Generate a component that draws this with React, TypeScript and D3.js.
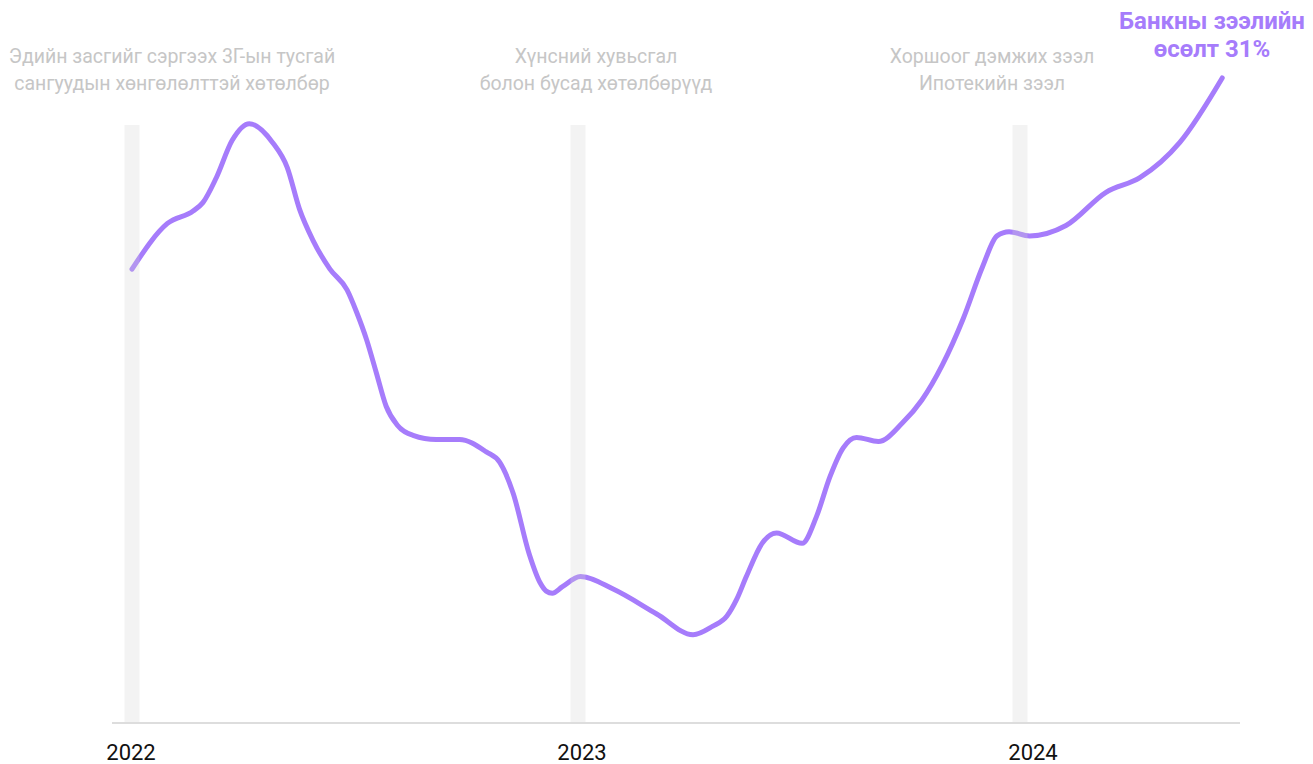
import React from "react";
import * as d3 from "d3";

// Bank loan growth (%)
const dates: string[] = [
  "2022-01-01", "2022-01-30", "2022-02-20", "2022-02-28", "2022-03-11", "2022-03-24",
  "2022-04-07", "2022-04-26", "2022-05-08", "2022-05-18", "2022-05-29", "2022-06-12",
  "2022-06-26", "2022-07-04", "2022-07-12", "2022-07-20", "2022-07-28", "2022-08-06",
  "2022-08-19", "2022-09-07", "2022-09-26", "2022-10-18", "2022-10-29", "2022-11-09",
  "2022-11-22", "2022-12-01", "2022-12-06", "2022-12-11", "2022-12-19",
  "2023-01-03", "2023-01-30", "2023-03-07", "2023-04-06", "2023-04-22", "2023-05-04",
  "2023-05-12", "2023-05-20", "2023-06-02", "2023-06-14", "2023-07-05", "2023-07-17",
  "2023-07-28", "2023-08-08", "2023-08-19", "2023-09-06", "2023-09-26", "2023-10-12",
  "2023-10-29", "2023-11-15", "2023-12-01", "2023-12-13", "2023-12-23",
  "2024-01-09", "2024-02-08", "2024-03-12", "2024-04-09", "2024-05-12", "2024-06-16",
];
const values: number[] = [
  21.8, 24.0, 24.6, 25.0, 26.2, 28.0,
  28.8, 27.9, 26.7, 24.7, 23.2, 21.8,
  20.8, 19.7, 18.4, 16.8, 15.2, 14.3,
  13.8, 13.6, 13.6, 13.0, 12.5, 11.0,
  8.1, 6.7, 6.3, 6.2, 6.5,
  7.0, 6.4, 5.2, 4.2, 4.6, 5.1,
  5.9, 7.0, 8.6, 9.1, 8.6, 9.9,
  11.8, 13.2, 13.7, 13.5, 14.4, 15.5,
  17.2, 19.4, 21.9, 23.4, 23.6,
  23.4, 23.9, 25.5, 26.2, 27.9, 31.0,
];

const years: string[] = ["2022", "2023", "2024"];

const annotations: string[][] = [
  ["Эдийн засгийг сэргээх 3Г-ын тусгай", "сангуудын хөнгөлөлттэй хөтөлбөр"],
  ["Хүнсний хувьсгал", "болон бусад хөтөлбөрүүд"],
  ["Хоршоог дэмжих зээл", "Ипотекийн зээл"],
];
const annotationX: number[] = [172, 596, 992];
const yearLabelDx: number[] = [-1, 4, 13];

const endLabel: string[] = ["Банкны зээлийн", "өсөлт 31%"];

const W = 1313;
const H = 764;

export default function App() {
  const parse = d3.timeParse("%Y-%m-%d");
  const data = dates.map((d, i) => ({ date: parse(d) as Date, value: values[i] }));

  const x = d3
    .scaleTime()
    .domain([new Date(2022, 0, 1), new Date(2023, 0, 1), new Date(2024, 0, 1)])
    .range([132, 578, 1020]);
  const y = d3.scaleLinear().domain([0, 31]).range([722, 78]);

  const line = d3
    .line<{ date: Date; value: number }>()
    .x((d) => x(d.date))
    .y((d) => y(d.value))
    .curve(d3.curveMonotoneX);

  const font = "Roboto, 'Noto Sans', sans-serif";

  return (
    <svg
      width={W}
      height={H}
      style={{ position: "absolute", left: 0, top: 0, background: "#fff" }}
      fontFamily={font}
    >
      <path
        d={line(data) || ""}
        fill="none"
        stroke="#a67cfb"
        strokeWidth={5}
        strokeLinecap="round"
        strokeLinejoin="round"
      />
      {years.map((yr) => {
        const cx = x(new Date(+yr, 0, 1));
        return (
          <rect
            key={"b" + yr}
            x={cx - 7.5}
            y={125}
            width={15}
            height={722 - 125}
            fill="#d5d5d5"
            opacity={0.28}
          />
        );
      })}
      <line x1={112} x2={1240} y1={723} y2={723} stroke="#dddddd" strokeWidth={2} />
      {years.map((yr, i) => {
        const cx = x(new Date(+yr, 0, 1));
        return (
          <text
            key={"t" + yr}
            x={cx + yearLabelDx[i]}
            y={760}
            textAnchor="middle"
            fontSize={22}
            fill="#111"
          >
            {yr}
          </text>
        );
      })}
      {annotations.map((lines, i) => (
        <text
          key={"a" + i}
          x={annotationX[i]}
          textAnchor="middle"
          fontSize={19.5}
          fill="#c6c6c6"
        >
          {lines.map((l, j) => (
            <tspan key={j} x={annotationX[i]} y={63 + j * 27}>
              {l}
            </tspan>
          ))}
        </text>
      ))}
      <text x={1212} textAnchor="middle" fontSize={24} fontWeight={700} fill="#a67cfb">
        {endLabel.map((l, j) => (
          <tspan key={j} x={1212} y={29 + j * 28}>
            {l}
          </tspan>
        ))}
      </text>
    </svg>
  );
}
